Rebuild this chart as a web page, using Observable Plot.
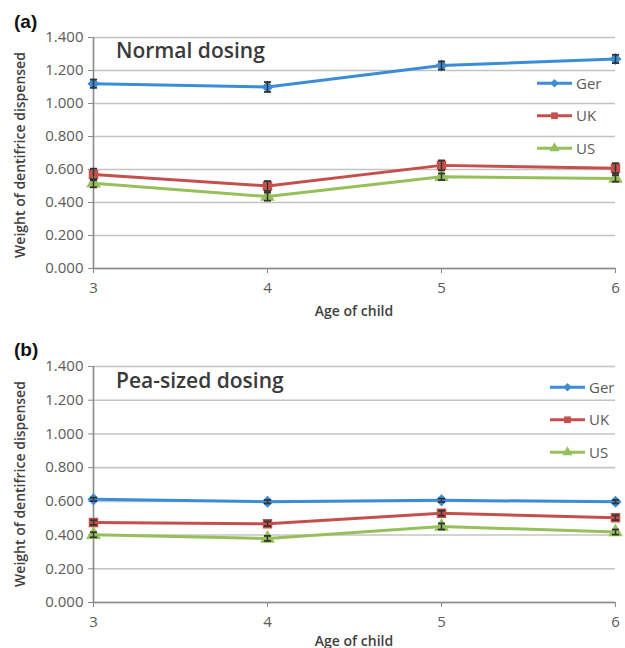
<!DOCTYPE html>
<html>
<head>
<meta charset="utf-8">
<script src="https://cdn.jsdelivr.net/npm/d3@7"></script>
<script src="https://cdn.jsdelivr.net/npm/@observablehq/plot@0.6"></script>
<style>
  html, body { margin: 0; padding: 0; background: #fff; }
  #wrap { position: relative; width: 625px; height: 648px; overflow: hidden; font-family: "Open Sans", sans-serif; }
  .panel { position: absolute; left: 0; }
  .lbl { position: absolute; white-space: nowrap; }
  .tag { font-family: "Liberation Sans", Arial, sans-serif; font-weight: bold; font-size: 19px; color: #111; }
  .title { font-weight: 600; font-size: 21px; color: #3a3a3a; }
  .ylab { font-weight: 600; font-size: 14px; color: #404040; transform: translate(-50%, -50%) rotate(-90deg); }
  .xlab { font-weight: 600; font-size: 14px; color: #404040; transform: translate(-50%, -50%); }
</style>
</head>
<body>
<div id="wrap"></div>
<script>
// ---- data ----
const ages = [3, 4, 5, 6];
const seriesNames = ["Ger", "UK", "US"];
const seriesColors = ["#3a8dd6", "#c4504c", "#96c05a"];
const seriesSymbols = ["diamond2", "square", "triangle"];
const yTicks = [0, 0.2, 0.4, 0.6, 0.8, 1.0, 1.2, 1.4];
const xTicks = [3, 4, 5, 6];

// (a) Normal dosing
const normalGer = [1.120, 1.100, 1.230, 1.270];
const normalUK  = [0.570, 0.500, 0.625, 0.608];
const normalUS  = [0.517, 0.436, 0.556, 0.546];
const normalGerErr = [0.025, 0.030, 0.025, 0.025];
const normalUKErr  = [0.035, 0.030, 0.030, 0.030];
const normalUSErr  = [0.025, 0.025, 0.020, 0.020];

// (b) Pea-sized dosing
const peaGer = [0.612, 0.598, 0.606, 0.598];
const peaUK  = [0.474, 0.467, 0.530, 0.503];
const peaUS  = [0.402, 0.380, 0.451, 0.418];
const peaGerErr = [0.010, 0.010, 0.010, 0.010];
const peaUKErr  = [0.014, 0.014, 0.015, 0.014];
const peaUSErr  = [0.015, 0.015, 0.018, 0.015];

function toRows(vals, errs) {
  const rows = [];
  seriesNames.forEach((s, i) => {
    ages.forEach((a, j) => rows.push({series: s, age: a, v: vals[i][j], e: errs[i][j]}));
  });
  return rows;
}

const capSymbol = {
  draw(ctx, size) {
    const w = Math.sqrt(size) / 2;
    ctx.moveTo(-w, 0); ctx.lineTo(w, 0);
  }
};

function makePanel(rows, height, mt, mb) {
  return Plot.plot({
    width: 625,
    height: height,
    marginTop: mt,
    marginBottom: mb,
    marginLeft: 93,
    marginRight: 10,
    style: {fontFamily: "Open Sans, sans-serif", background: "transparent"},
    x: {domain: [3, 6], ticks: xTicks},
    y: {domain: [0, 1.4], ticks: yTicks},
    color: {domain: seriesNames, range: seriesColors},
    symbol: {domain: seriesNames, range: seriesSymbols},
    marks: [
      Plot.gridY(yTicks, {stroke: "#c4c4c4", strokeOpacity: 1, strokeWidth: 1.6}),
      Plot.ruleX([3], {stroke: "#8a8a8a", strokeWidth: 1.6}),
      Plot.ruleY([0], {stroke: "#8a8a8a", strokeWidth: 1.6}),
      Plot.axisY(yTicks, {
        tickFormat: d3.format(".3f"), tickSize: 5, tickPadding: 5,
        fontSize: 15, color: "#5a5a5a", stroke: "#8a8a8a", label: null
      }),
      Plot.axisX(xTicks, {
        tickFormat: d => String(d), tickSize: 5, tickPadding: 9,
        fontSize: 15, color: "#5a5a5a", stroke: "#8a8a8a", label: null
      }),
      Plot.line(rows, {x: "age", y: "v", z: "series", stroke: "series", strokeWidth: 3}),
      Plot.dot(rows, {x: "age", y: "v", symbol: "series", fill: "series", stroke: "series", r: 4.5}),
      Plot.ruleX(rows, {x: "age", y1: d => d.v - d.e, y2: d => d.v + d.e, stroke: "#333", strokeWidth: 1.5}),
      Plot.dot(rows, {x: "age", y: d => d.v - d.e, symbol: capSymbol, r: 4, stroke: "#333", strokeWidth: 1.8, fill: "none"}),
      Plot.dot(rows, {x: "age", y: d => d.v + d.e, symbol: capSymbol, r: 4, stroke: "#333", strokeWidth: 1.8, fill: "none"})
    ]
  });
}

const wrap = document.getElementById("wrap");

function addPanel(top, rows, height, mt, mb) {
  const p = makePanel(rows, height, mt, mb);
  p.classList.add("panel");
  p.style.top = top + "px";
  wrap.appendChild(p);
}

function addLabel(cls, text, left, top) {
  const d = document.createElement("div");
  d.className = "lbl " + cls;
  d.textContent = text;
  d.style.left = left + "px";
  d.style.top = top + "px";
  wrap.appendChild(d);
}

function addLegend(left, top, gap) {
  const w = 110, h = gap * 3;
  const svg = d3.create("svg").attr("width", w).attr("height", h)
    .style("position", "absolute").style("left", left + "px").style("top", top + "px");
  seriesNames.forEach((s, i) => {
    const cy = gap / 2 + i * gap;
    const g = svg.append("g").attr("transform", `translate(0,${cy})`);
    g.append("line").attr("x1", 0).attr("x2", 35).attr("stroke", seriesColors[i]).attr("stroke-width", 3);
    const sym = [d3.symbolDiamond2, d3.symbolSquare, d3.symbolTriangle][i];
    g.append("path").attr("d", d3.symbol(sym, 45)()).attr("transform", "translate(17.5,0)")
      .attr("fill", seriesColors[i]);
    g.append("text").attr("x", 39).attr("dy", "0.35em").attr("fill", "#5a5a5a")
      .style("font-family", "Open Sans, sans-serif").style("font-size", "15px").text(s);
  });
  wrap.appendChild(svg.node());
}

// Panel (a)
addPanel(0, toRows([normalGer, normalUK, normalUS], [normalGerErr, normalUKErr, normalUSErr]), 320, 37, 52);
addLabel("tag", "(a)", 14, 11);
addLabel("title", "Normal dosing", 116, 36);
addLabel("ylab", "Weight of dentifrice dispensed", 19, 155);
addLabel("xlab", "Age of child", 354, 310);
addLegend(537, 83 - 16, 32.5);

// Panel (b)
addPanel(320, toRows([peaGer, peaUK, peaUS], [peaGerErr, peaUKErr, peaUSErr]), 328, 46, 46);
addLabel("tag", "(b)", 14, 339);
addLabel("title", "Pea-sized dosing", 116, 366);
addLabel("ylab", "Weight of dentifrice dispensed", 19, 484);
addLabel("xlab", "Age of child", 354, 640);
addLegend(550, 387 - 16, 32.5);
</script>
</body>
</html>
